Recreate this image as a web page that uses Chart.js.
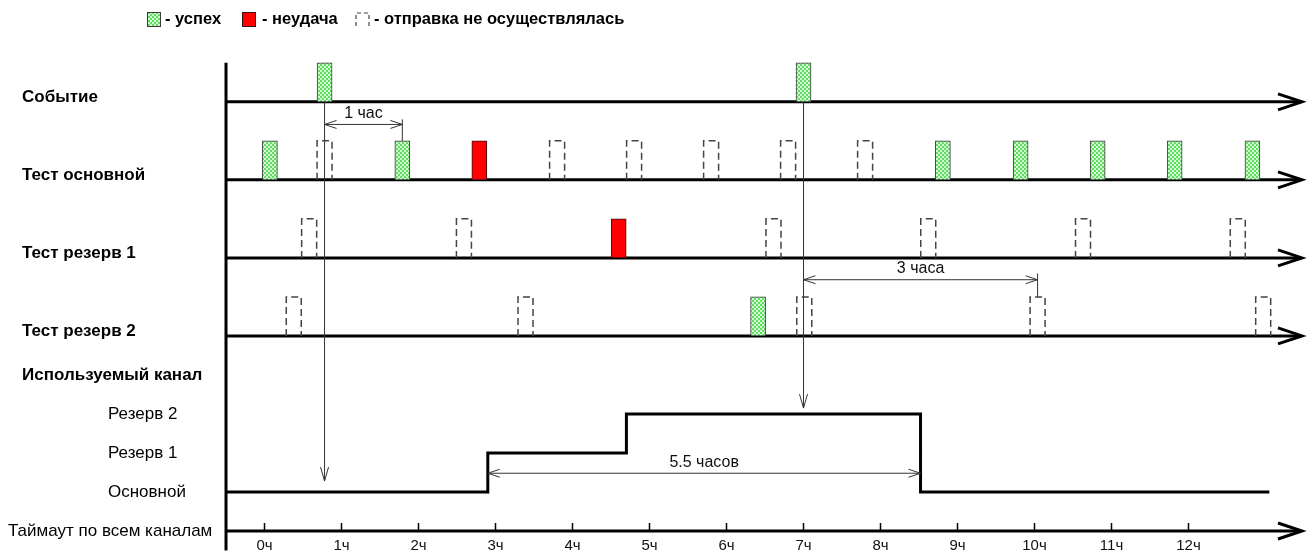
<!DOCTYPE html>
<html>
<head>
<meta charset="utf-8">
<script src="https://cdn.jsdelivr.net/npm/chart.js@4"></script>
<style>
  html, body { margin: 0; padding: 0; background: #fff; }
  #wrap { width: 1312px; height: 553px; }
</style>
</head>
<body>
<div id="wrap"><canvas id="chart"></canvas></div>
<script>
// rows (y value of each baseline, reversed scale, 1 unit = one bar height)
var ROW_NAMES = ["Событие", "Тест основной", "Тест резерв 1", "Тест резерв 2", "Используемый канал", "Таймаут по всем каналам"];
var ROW_Y = [0, 2, 4, 6, 7, 11];
var CHANNEL_NAMES = ["Резерв 2", "Резерв 1", "Основной"];
var CHANNEL_Y = [8, 9, 10];
var HOURS = [0, 1, 2, 3, 4, 5, 6, 7, 8, 9, 10, 11, 12];

// events and test sends, hours (bar centres); status: ok / fail / none
var event_hours = [0.78, 7.0];
var main_hours = [0.07, 0.78, 1.79, 2.79, 3.8, 4.8, 5.8, 6.8, 7.8, 8.81, 9.82, 10.82, 11.82, 12.83];
var main_status = ["ok", "none", "ok", "fail", "none", "none", "none", "none", "none", "ok", "ok", "ok", "ok", "ok"];
var res1_hours = [0.58, 2.59, 4.6, 6.61, 8.62, 10.63, 12.64];
var res1_status = ["none", "none", "fail", "none", "none", "none", "none"];
var res2_hours = [0.38, 3.39, 6.41, 7.01, 10.04, 12.97];
var res2_status = ["none", "none", "ok", "none", "none", "none"];

// used channel: switch time -> channel
var switch_hours = [-0.5, 2.9, 4.7, 8.52, 13.05];
var switch_channel = ["Основной", "Резерв 1", "Резерв 2", "Основной", "Основной"];

var LEGEND = ["- успех", "- неудача", "- отправка не осуществлялась"];

var X_MIN = -0.5, X_MAX = 13.5;

function makePattern() {
    var c = document.createElement('canvas');
    c.width = 4; c.height = 4;
    var g = c.getContext('2d');
    g.fillStyle = "#d2fad2";
    g.fillRect(0, 0, 4, 4);
    g.fillStyle = "#62dc62";
    g.fillRect(0, 0, 2, 2);
    g.fillRect(2, 2, 2, 2);
    return g.createPattern(c, 'repeat');
}
var green_fill = makePattern();

function barsOf(hours, status, baseY, want) {
    var out = [];
    hours.forEach(function(h, i) {
        if (status[i] == want) out.push({x: h, y: [baseY - 1, baseY]});
    });
    return out;
}

var rowSets = [
    {hours: event_hours, status: event_hours.map(function() { return "ok"; }), y: ROW_Y[0]},
    {hours: main_hours, status: main_status, y: ROW_Y[1]},
    {hours: res1_hours, status: res1_status, y: ROW_Y[2]},
    {hours: res2_hours, status: res2_status, y: ROW_Y[3]}
];

function collect(want) {
    var all = [];
    rowSets.forEach(function(r) { all = all.concat(barsOf(r.hours, r.status, r.y, want)); });
    return all;
}

var datasets = [];
// baselines
[ROW_Y[0], ROW_Y[1], ROW_Y[2], ROW_Y[3], ROW_Y[5]].forEach(function(yv) {
    datasets.push({
        type: "line",
        data: [{x: X_MIN, y: yv}, {x: 13.42, y: yv}],
        borderColor: "#000",
        borderWidth: 3,
        pointRadius: 0,
        order: 5
    });
});
// used channel step line
datasets.push({
    type: "line",
    data: switch_hours.map(function(h, i) { return {x: h, y: CHANNEL_Y[CHANNEL_NAMES.indexOf(switch_channel[i])]}; }),
    stepped: "before",
    borderColor: "#000",
    borderWidth: 3,
    pointRadius: 0,
    order: 5
});
datasets.push({
    type: "bar", label: "ok", data: collect("ok"), grouped: false, barThickness: 15,
    backgroundColor: green_fill, borderColor: "#3a3a3a", borderWidth: 1, borderSkipped: false, order: 1
});
datasets.push({
    type: "bar", label: "fail", data: collect("fail"), grouped: false, barThickness: 15,
    backgroundColor: "#ff0000", borderColor: "#3a1010", borderWidth: 1, borderSkipped: false, order: 1
});
datasets.push({
    type: "bar", label: "none", data: collect("none"), grouped: false, barThickness: 15,
    backgroundColor: "rgba(0,0,0,0)", borderWidth: 0, order: 1
});

function arrowHead(ctx, tx, ty, dx, dy, len, half) {
    var n = Math.sqrt(dx * dx + dy * dy); dx /= n; dy /= n;
    ctx.beginPath();
    ctx.moveTo(tx - dx * len - dy * half, ty - dy * len + dx * half);
    ctx.lineTo(tx, ty);
    ctx.lineTo(tx - dx * len + dy * half, ty - dy * len - dx * half);
    ctx.stroke();
}

var NARROW = "'Liberation Sans Narrow', 'Liberation Sans', Arial, sans-serif";

function dimension(ctx, x, y, h0, h1, yv, text, extTop, extBottom) {
    var a = x.getPixelForValue(h0), b = x.getPixelForValue(h1), py = y.getPixelForValue(yv);
    ctx.strokeStyle = "#333"; ctx.lineWidth = 1;
    ctx.beginPath(); ctx.moveTo(a, py); ctx.lineTo(b, py); ctx.stroke();
    arrowHead(ctx, a, py, -1, 0, 12, 4);
    arrowHead(ctx, b, py, 1, 0, 12, 4);
    if (extTop != null) {
        ctx.beginPath();
        ctx.moveTo(b, y.getPixelForValue(extTop));
        ctx.lineTo(b, y.getPixelForValue(extBottom));
        ctx.stroke();
    }
    ctx.fillStyle = "#111";
    ctx.font = "16px " + NARROW;
    ctx.textAlign = "center"; ctx.textBaseline = "bottom";
    ctx.fillText(text, (a + b) / 2, py - 3);
}

var diagramPlugin = {
    id: "diagram",
    afterDatasetsDraw: function(chart) {
        var ctx = chart.ctx, x = chart.scales.x, y = chart.scales.y;
        ctx.save();
        // dashed outlines for "no send"
        var meta = chart.getDatasetMeta(chart.data.datasets.length - 1);
        ctx.strokeStyle = "#444"; ctx.lineWidth = 1.5; ctx.setLineDash([7, 4]);
        meta.data.forEach(function(bar) {
            var p = bar.getProps(["x", "y", "base", "width"], true);
            var l = p.x - p.width / 2, r = p.x + p.width / 2;
            var top = Math.min(p.y, p.base), bot = Math.max(p.y, p.base);
            ctx.beginPath();
            ctx.moveTo(l, bot); ctx.lineTo(l, top); ctx.lineTo(r, top); ctx.lineTo(r, bot);
            ctx.stroke();
        });
        ctx.setLineDash([]);

        // vertical axis
        ctx.strokeStyle = "#000"; ctx.lineWidth = 3;
        var ax = x.getPixelForValue(X_MIN);
        ctx.beginPath(); ctx.moveTo(ax, y.getPixelForValue(-1)); ctx.lineTo(ax, y.getPixelForValue(11.5)); ctx.stroke();

        // arrowheads on baselines
        [ROW_Y[0], ROW_Y[1], ROW_Y[2], ROW_Y[3], ROW_Y[5]].forEach(function(yv) {
            arrowHead(ctx, x.getPixelForValue(13.5) - 2, y.getPixelForValue(yv), 1, 0, 24, 8);
        });

        // hour ticks + labels
        ctx.lineWidth = 1.5;
        ctx.fillStyle = "#111";
        ctx.font = "15px " + NARROW;
        ctx.textAlign = "center"; ctx.textBaseline = "middle";
        var axisY = y.getPixelForValue(ROW_Y[5]);
        HOURS.forEach(function(h) {
            var px = x.getPixelForValue(h);
            ctx.beginPath(); ctx.moveTo(px, axisY); ctx.lineTo(px, axisY - 8); ctx.stroke();
            ctx.fillText(h + "ч", px, axisY + 15);
        });

        // event -> channel arrows
        ctx.strokeStyle = "#333"; ctx.lineWidth = 1;
        var evTarget = [CHANNEL_Y[2] - 0.28, CHANNEL_Y[0] - 0.15];
        event_hours.forEach(function(h, i) {
            var px = x.getPixelForValue(h);
            var t = y.getPixelForValue(evTarget[i]);
            ctx.beginPath(); ctx.moveTo(px, y.getPixelForValue(ROW_Y[0])); ctx.lineTo(px, t); ctx.stroke();
            arrowHead(ctx, px, t, 0, 1, 14, 4);
        });

        // dimension lines
        dimension(ctx, x, y, event_hours[0], main_hours[2], 0.58, "1 час", 0.45, ROW_Y[1] - 1);
        dimension(ctx, x, y, event_hours[1], res2_hours[4], 4.56, "3 часа", 4.4, ROW_Y[3] - 1);
        dimension(ctx, x, y, switch_hours[1], switch_hours[3], 9.52, "5.5 часов", null, null);

        // row labels
        ctx.fillStyle = "#000";
        ctx.textAlign = "left"; ctx.textBaseline = "middle";
        ctx.font = "bold 17px 'Liberation Sans', Arial, sans-serif";
        for (var i = 0; i < 5; i++) {
            ctx.fillText(ROW_NAMES[i], 22, y.getPixelForValue(ROW_Y[i]) - (i == 4 ? 0 : 5));
        }
        ctx.font = "17px 'Liberation Sans', Arial, sans-serif";
        ctx.fillText(ROW_NAMES[5], 8, y.getPixelForValue(ROW_Y[5]));
        CHANNEL_NAMES.forEach(function(n, i) {
            ctx.fillText(n, 108, y.getPixelForValue(CHANNEL_Y[i]));
        });

        // legend
        ctx.font = "bold 16.5px 'Liberation Sans', Arial, sans-serif";
        ctx.textBaseline = "middle";
        var lx = 147, ly = 19;
        ctx.fillStyle = green_fill; ctx.fillRect(lx, ly - 7, 13, 14);
        ctx.strokeStyle = "#3a3a3a"; ctx.lineWidth = 1; ctx.strokeRect(lx + 0.5, ly - 6.5, 13, 14);
        ctx.fillStyle = "#000"; ctx.fillText(LEGEND[0], lx + 18, ly);
        lx = 242;
        ctx.fillStyle = "#ff0000"; ctx.fillRect(lx, ly - 7, 13, 14);
        ctx.strokeStyle = "#3a1010"; ctx.strokeRect(lx + 0.5, ly - 6.5, 13, 14);
        ctx.fillStyle = "#000"; ctx.fillText(LEGEND[1], lx + 20, ly);
        lx = 356;
        ctx.strokeStyle = "#444"; ctx.lineWidth = 1.2; ctx.setLineDash([4, 3]);
        ctx.beginPath(); ctx.moveTo(lx, ly + 7); ctx.lineTo(lx, ly - 6); ctx.lineTo(lx + 13, ly - 6); ctx.lineTo(lx + 13, ly + 7); ctx.stroke();
        ctx.setLineDash([]);
        ctx.fillText(LEGEND[2], lx + 18, ly);
        ctx.restore();
    }
};

new Chart(document.getElementById("chart"), {
    type: "bar",
    data: { datasets: datasets },
    options: {
        responsive: true,
        maintainAspectRatio: false,
        animation: false,
        layout: { padding: { left: 226, right: 8, top: 55, bottom: 2.5 } },
        plugins: { legend: { display: false }, tooltip: { enabled: false } },
        scales: {
            x: { type: "linear", min: X_MIN, max: X_MAX, offset: false, display: false },
            y: { type: "linear", min: -1.2, max: 11.5, reverse: true, display: false }
        }
    },
    plugins: [diagramPlugin]
});
</script>
</body>
</html>
